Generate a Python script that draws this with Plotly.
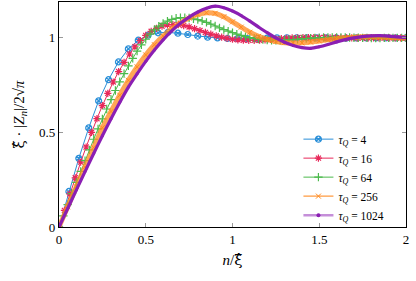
import numpy as np
import plotly.graph_objects as go

# tau_Q = 4  (step ~0.0571 in n/xi)
step4 = 0.0571
y4 = [0, 0.188, 0.363, 0.524, 0.667, 0.779, 0.873, 0.942, 0.988, 1.015, 1.027, 1.03,
      1.025, 1.018, 1.01, 1.004, 1.0, 0.997, 0.996, 0.996, 0.997, 0.999, 1.0, 1.001,
      1.001, 1.001, 1.0, 1.0, 1.0, 0.999, 1.0, 1.0, 1.0, 1.0, 1.0, 1.0]

# tau_Q = 16 (step 1/32)
step16 = 0.03125
y16 = [0, 0.088, 0.175, 0.26, 0.343, 0.423, 0.5, 0.573, 0.642, 0.707, 0.767, 0.822,
       0.871, 0.915, 0.953, 0.986, 1.013, 1.035, 1.051, 1.062, 1.069, 1.071, 1.07, 1.065,
       1.058, 1.049, 1.039, 1.029, 1.02, 1.011, 1.004, 0.998, 0.993, 0.99, 0.988, 0.987,
       0.987, 0.988, 0.99, 0.992, 0.994, 0.996, 0.998, 1.0, 1.001, 1.002, 1.002, 1.002,
       1.002, 1.002, 1.001, 1.001, 1.0, 1.0, 1.0, 0.999, 0.999, 0.999, 1.0, 1.0, 1.0,
       1.0, 1.0, 1.0, 1.0]

# tau_Q = 64 (step 0.025)
step64 = 0.025
y64 = [0, 0.059, 0.118, 0.177, 0.236, 0.294, 0.351, 0.408, 0.464, 0.519, 0.572, 0.624,
       0.674, 0.722, 0.768, 0.811, 0.852, 0.892, 0.93, 0.963, 0.993, 1.02, 1.043, 1.062,
       1.077, 1.089, 1.098, 1.104, 1.107, 1.107, 1.105, 1.101,
       1.097, 1.09, 1.082, 1.073, 1.063, 1.053, 1.044, 1.036, 1.028, 1.02, 1.013, 1.007,
       1.002, 0.998, 0.994, 0.991, 0.989, 0.988, 0.987, 0.987, 0.988, 0.989, 0.991, 0.993,
       0.995, 0.997, 0.999, 1.0, 1.001, 1.002, 1.003, 1.003, 1.003, 1.003, 1.002, 1.002,
       1.001, 1.001, 1.0, 1.0, 0.999, 0.999, 0.999, 1.0, 1.0, 1.0, 1.0, 1.0, 1.0]

# tau_Q = 256 (read every 0.05)
step256 = 0.05
y256 = [0, 0.107, 0.213, 0.318, 0.42, 0.525, 0.611, 0.697, 0.776, 0.847, 0.91, 0.964,
        1.01, 1.048, 1.08, 1.105, 1.124, 1.133, 1.13, 1.112, 1.085, 1.057, 1.03, 1.008,
        0.992, 0.981, 0.975, 0.973, 0.974, 0.978, 0.984, 0.99, 0.996, 1.0, 1.004, 1.006,
        1.006, 1.005, 1.003, 1.001, 1.0]

# tau_Q = 1024 (read every 0.05)
step1024 = 0.05
y1024 = [0, 0.098, 0.196, 0.293, 0.389, 0.483, 0.573, 0.659, 0.74, 0.81, 0.876, 0.936,
         0.99, 1.037, 1.077, 1.11, 1.137, 1.157, 1.168, 1.16, 1.142, 1.118, 1.089, 1.058,
         1.028, 1.0, 0.977, 0.96, 0.949, 0.945, 0.953, 0.965, 0.979, 0.991, 1.0, 1.007,
         1.011, 1.012, 1.01, 1.006, 1.002]

labels = ["4", "16", "64", "256", "1024"]
xticks = [0, 0.5, 1, 1.5, 2]
xticklabels = ["0", "0.5", "1", "1.5", "2"]
yticks = [0, 0.5, 1]
yticklabels = ["0", "0.5", "1"]

def xs(step, n):
    return np.round(np.arange(n) * step, 5)

FONT = "Liberation Serif, DejaVu Serif, serif"
HAT = "<span style='font-family:DejaVu Serif'>ξ\u0302</span>"
c_blue = "#2a8fd8"
c_red = "#e8285a"
c_green = "#4cba4c"
c_orange = "#ff8a1e"
c_purple = "#8b1fb3"

fig = go.Figure()

def name(lbl):
    return "<i>τ<sub>Q</sub></i> = " + lbl

fig.add_trace(go.Scatter(x=xs(step4, len(y4)), y=y4, mode="lines+markers", name=name(labels[0]),
                         line=dict(color=c_blue, width=1),
                         marker=dict(symbol="circle-x-open", size=6, color=c_blue, line=dict(width=1.2))))
fig.add_trace(go.Scatter(x=xs(step16, len(y16)), y=y16, mode="lines+markers", name=name(labels[1]),
                         line=dict(color=c_red, width=1),
                         marker=dict(symbol="asterisk-open", size=6, color=c_red, line=dict(width=1.2, color=c_red))))
fig.add_trace(go.Scatter(x=xs(step64, len(y64)), y=y64, mode="lines+markers", name=name(labels[2]),
                         line=dict(color=c_green, width=1),
                         marker=dict(symbol="cross-thin-open", size=6, color=c_green, line=dict(width=1.2, color=c_green))))
fig.add_trace(go.Scatter(x=xs(step256, len(y256)), y=y256, mode="lines+markers", name=name(labels[3]),
                         legendgroup="g256", showlegend=False,
                         line=dict(color="rgba(255,138,30,0.75)", width=5, shape="spline", smoothing=0.8),
                         marker=dict(symbol="x-thin-open", size=5, color=c_orange, line=dict(width=1, color=c_orange))))
# legend proxy (no mark drawn)
fig.add_trace(go.Scatter(x=[None], y=[None], mode="lines+markers", name=name(labels[3]),
                         legendgroup="g256",
                         line=dict(color="rgba(255,138,30,0.85)", width=1.2),
                         marker=dict(symbol="x-thin-open", size=5, color=c_orange, line=dict(width=1, color=c_orange))))
fig.add_trace(go.Scatter(x=xs(step1024, len(y1024)), y=y1024, mode="lines+markers", name=name(labels[4]),
                         legendgroup="g1024", showlegend=False,
                         line=dict(color=c_purple, width=3.2, shape="spline", smoothing=0.8),
                         marker=dict(symbol="circle", size=3, color=c_purple)))
fig.add_trace(go.Scatter(x=[None], y=[None], mode="lines+markers", name=name(labels[4]),
                         legendgroup="g1024",
                         line=dict(color="rgba(139,31,179,0.5)", width=2.5),
                         marker=dict(symbol="circle", size=4, color=c_purple)))

axis_common = dict(showgrid=False, zeroline=False, showline=True, linecolor="black", linewidth=1.3,
                   mirror="ticks", ticks="inside", ticklen=4, tickcolor="#999999", tickwidth=1,
                   automargin=False,
                   tickfont=dict(family=FONT, size=13, color="black"))

fig.update_layout(
    width=416, height=281,
    margin=dict(l=59, r=10, t=2, b=54),
    plot_bgcolor="white", paper_bgcolor="white",
    showlegend=True,
    legend=dict(x=0.69, y=0.455, xanchor="left", yanchor="top", bgcolor="rgba(255,255,255,0)",
                font=dict(family=FONT, size=11.5, color="black"), itemwidth=30,
                tracegroupgap=0),
    xaxis=dict(range=[0, 2], tickvals=xticks, ticktext=xticklabels,
               title=dict(text="<i>n</i>/" + HAT, font=dict(family=FONT, size=15, color="black"), standoff=8),
               **axis_common),
    yaxis=dict(range=[0, 1.19], tickvals=yticks, ticktext=yticklabels,
               title=dict(text=HAT + " · |<i>Z<sub>n</sub></i>|/2√<i>π</i>", font=dict(family=FONT, size=15, color="black"), standoff=10),
               **axis_common),
)

fig.write_html("out.html", config={"displayModeBar": False},
               post_script="document.body.style.margin='0';document.body.style.padding='0';")
